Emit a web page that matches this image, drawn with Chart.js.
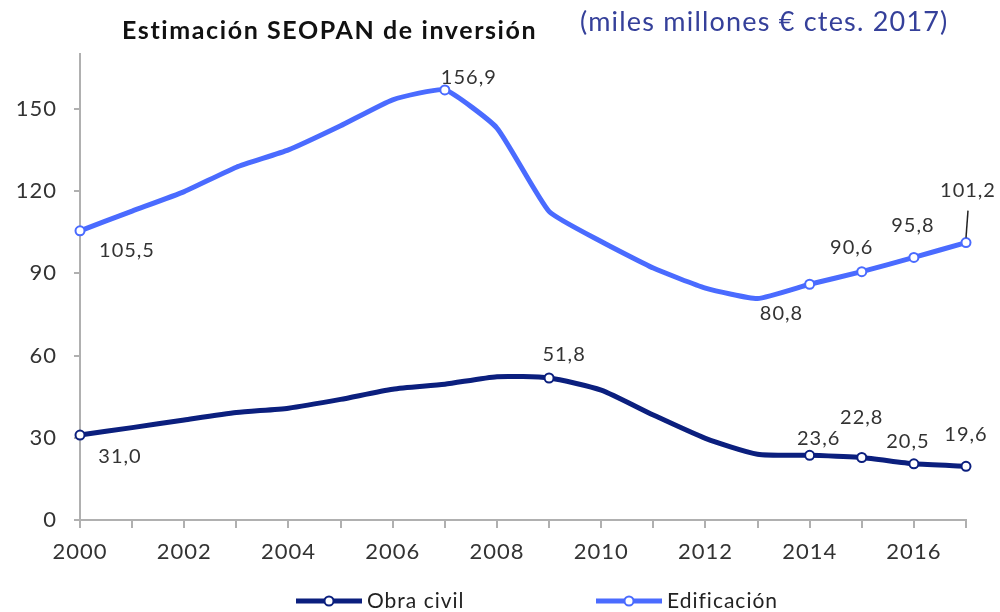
<!DOCTYPE html>
<html>
<head>
<meta charset="utf-8">
<script src="https://cdn.jsdelivr.net/npm/chart.js@4/dist/chart.umd.min.js"></script>
<style>
  html, body { margin: 0; padding: 0; background: #fff; }
  #wrap { width: 1000px; height: 612px; position: relative; }
</style>
</head>
<body>
<div id="wrap"><canvas id="chart-1" width="1000" height="612"></canvas></div>
<script>
const years = ["2000","2001","2002","2003","2004","2005","2006","2007","2008","2009",
               "2010","2011","2012","2013","2014","2015","2016","2017"];
const obraCivil = [31.0, 33.7, 36.5, 39.2, 40.8, 44.0, 47.7, 49.5, 52.3, 51.8,
                   47.4, 38.3, 29.8, 24.0, 23.6, 22.8, 20.5, 19.6];
const edificacion = [105.5, 112.7, 119.8, 128.7, 135.0, 143.8, 153.3, 156.9, 143.0, 112.6,
                     101.6, 91.9, 84.6, 80.8, 86.0, 90.6, 95.8, 101.2];
const yTicks = [0, 30, 60, 90, 120, 150];
const title = "Estimación SEOPAN de inversión";
const subtitle = "(miles millones € ctes. 2017)";

// which points get a marker / a value label, and where the label sits
const civilMarks = [0, 9, 14, 15, 16, 17];
const edifMarks = [0, 7, 14, 15, 16, 17];
const civilLabels = { 0: [40, 22], 9: [15, -23], 14: [9, -17], 15: [0, -40], 16: [-6, -22], 17: [0, -32] };
const edifLabels = { 0: [47, 20], 7: [24, -12], 13: [24, 15], 15: [-10, -24], 16: [-1, -32], 17: [2, -52] };

const navy = "#0b1f7e";
const blue = "#4a6bff";
const font = "Lato, 'Open Sans', sans-serif";

const radii = marks => years.map((y, i) => marks.includes(i) ? 4.5 : 0);
const fmt = v => v.toFixed(1).replace(".", ",");

// the source font is wider than Lato, so open the letters up a bit
const spacing = {
  id: "spacing",
  beforeLayout(chart) { chart.ctx.letterSpacing = "1px"; },
  beforeDraw(chart) { chart.ctx.letterSpacing = "1px"; },
};

const extras = {
  id: "extras",
  afterDatasetsDraw(chart) {
    const c = chart.ctx;
    c.save();
    c.letterSpacing = "1px";
    c.font = "20px " + font;
    c.fillStyle = "#333";
    c.textAlign = "center";
    c.textBaseline = "middle";
    [[0, civilLabels], [1, edifLabels]].forEach(([di, spec]) => {
      const meta = chart.getDatasetMeta(di);
      const vals = chart.data.datasets[di].data;
      Object.keys(spec).forEach(k => {
        const p = meta.data[k];
        const [dx, dy] = spec[k];
        c.fillText(fmt(vals[k]), p.x + dx, p.y + dy);
      });
    });
    // leader line for last Edificación label
    const last = chart.getDatasetMeta(1).data[17];
    c.strokeStyle = "#222";
    c.lineWidth = 1.5;
    c.beginPath();
    c.moveTo(last.x + 2, last.y - 32);
    c.lineTo(last.x, last.y - 5);
    c.stroke();

    // title + subtitle
    c.textAlign = "left";
    c.fillStyle = "#111";
    c.letterSpacing = "1.6px";
    c.font = "bold 25px " + font;
    c.fillText(title, 122, 31);
    c.fillStyle = "#35409a";
    c.letterSpacing = "1.2px";
    c.font = "27px " + font;
    c.fillText(subtitle, 580, 22);

    // legend
    c.letterSpacing = "1px";
    const items = [[0, 296], [1, 596]];
    items.forEach(([di, x]) => {
      const ds = chart.data.datasets[di];
      const y = 601;
      c.strokeStyle = ds.borderColor;
      c.lineWidth = 5;
      c.beginPath();
      c.moveTo(x, y);
      c.lineTo(x + 66, y);
      c.stroke();
      c.fillStyle = "#fff";
      c.lineWidth = 2;
      c.beginPath();
      c.arc(x + 33, y, 4.5, 0, Math.PI * 2);
      c.fill();
      c.stroke();
      c.fillStyle = "#222";
      c.font = "21px " + font;
      c.fillText(ds.label, x + 71, y);
    });
    c.restore();
  }
};

const ctx1 = document.getElementById("chart-1").getContext("2d");
const myChart = new Chart(ctx1, {
  type: "line",
  data: {
    labels: years,
    datasets: [
      {
        label: "Obra civil",
        data: obraCivil,
        borderColor: navy,
        borderWidth: 5,
        tension: 0.2,
        pointRadius: radii(civilMarks),
        pointBackgroundColor: "#fff",
        pointBorderColor: navy,
        pointBorderWidth: 2,
      },
      {
        label: "Edificación",
        data: edificacion,
        borderColor: blue,
        borderWidth: 5,
        tension: 0.15,
        pointRadius: radii(edifMarks),
        pointBackgroundColor: "#fff",
        pointBorderColor: blue,
        pointBorderWidth: 2,
      },
    ],
  },
  options: {
    responsive: false,
    animation: false,
    layout: { padding: { top: 54, right: 34, left: 0, bottom: 0 } },
    plugins: { legend: { display: false }, tooltip: { enabled: false } },
    scales: {
      x: {
        afterFit: s => { s.height = 92; },
        border: { color: "#b0b0b0", width: 2 },
        grid: { drawOnChartArea: false, color: "#b0b0b0", lineWidth: 2, tickLength: 8 },
        ticks: {
          autoSkip: false,
          maxRotation: 0,
          padding: 11,
          color: "#333",
          font: { family: font, size: 22 },
          callback: (v, i) => i % 2 === 0 ? years[i] : "",
        },
      },
      y: {
        min: 0,
        max: 170,
        afterFit: s => { s.width = 80; },
        afterBuildTicks: s => { s.ticks = yTicks.map(v => ({ value: v })); },
        border: { color: "#b0b0b0", width: 2 },
        grid: { drawOnChartArea: false, color: "#b0b0b0", lineWidth: 2, tickLength: 6 },
        ticks: {
          padding: 17,
          color: "#333",
          font: { family: font, size: 22 },
        },
      },
    },
  },
  plugins: [spacing, extras],
});
</script>
</body>
</html>
